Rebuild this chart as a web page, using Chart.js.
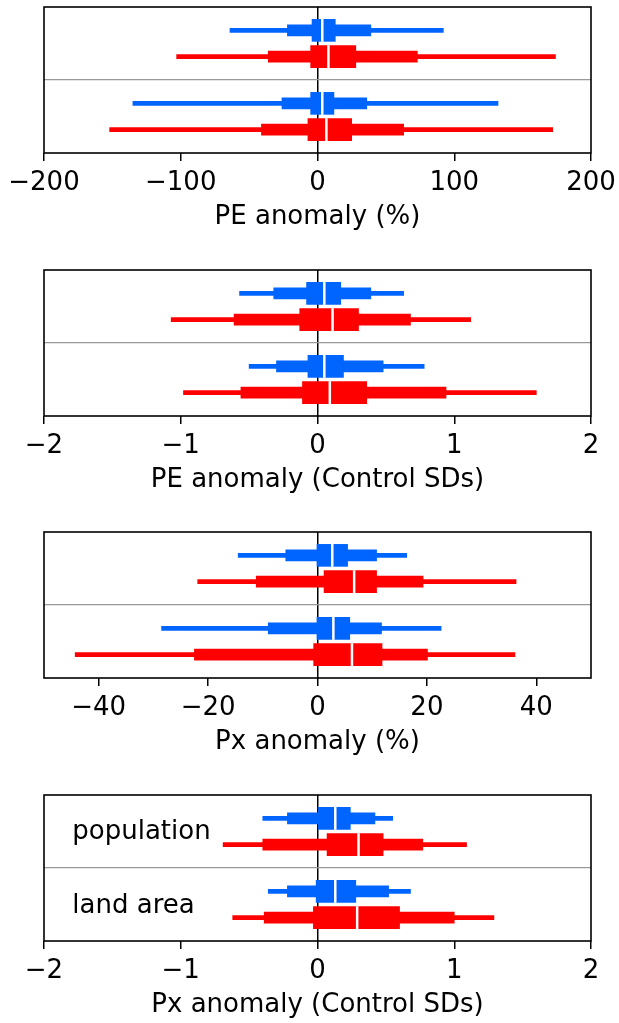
<!DOCTYPE html>
<html>
<head>
<meta charset="utf-8">
<script src="https://cdn.jsdelivr.net/npm/chart.js@4.4.1/dist/chart.umd.min.js"></script>
<style>
  html, body { margin: 0; padding: 0; background: #fff; overflow: hidden; }
  body { width: 619px; height: 1023px; position: relative; }
  canvas { position: absolute; left: 0; }
</style>
</head>
<body>
<canvas id="p1" width="619" height="240" style="top:0px"></canvas>
<canvas id="p2" width="619" height="240" style="top:263px"></canvas>
<canvas id="p3" width="619" height="240" style="top:525px"></canvas>
<canvas id="p4" width="619" height="240" style="top:788px"></canvas>
<script>
// rows, top to bottom: population (blue, red), land area (blue, red)
const groupLabels = ["population", "land area"];

// PE anomaly (%)
const pePctWhisker = [[-64, 92], [-103, 174], [-135, 132], [-152, 172]];
const pePctBox = [[-22, 39], [-36, 73], [-26, 36], [-41, 63]];
const pePctInner = [[-4, 13], [-5, 28], [-5, 12], [-7, 25]];
const pePctMedian = [3.5, 8, 3.5, 6.5];
const pePctTicks = [-200, -100, 0, 100, 200];

// PE anomaly (Control SDs)
const peSdWhisker = [[-0.57, 0.63], [-1.07, 1.12], [-0.50, 0.78], [-0.98, 1.60]];
const peSdBox = [[-0.32, 0.39], [-0.61, 0.68], [-0.30, 0.48], [-0.56, 0.94]];
const peSdInner = [[-0.08, 0.17], [-0.13, 0.30], [-0.07, 0.19], [-0.11, 0.36]];
const peSdMedian = [0.05, 0.11, 0.05, 0.09];
const peSdTicks = [-2, -1, 0, 1, 2];

// Px anomaly (%)
const pxPctWhisker = [[-14.5, 16.3], [-21.9, 36.3], [-28.5, 22.6], [-44.3, 36.1]];
const pxPctBox = [[-5.8, 10.8], [-11.2, 19.3], [-9.0, 11.7], [-22.5, 20.1]];
const pxPctInner = [[-0.1, 5.5], [1.2, 10.8], [-0.1, 5.9], [-0.7, 11.8]];
const pxPctMedian = [2.7, 6.7, 2.9, 6.3];
const pxPctTicks = [-40, -20, 0, 20, 40];

// Px anomaly (Control SDs)
const pxSdWhisker = [[-0.40, 0.55], [-0.69, 1.09], [-0.36, 0.68], [-0.62, 1.29]];
const pxSdBox = [[-0.22, 0.42], [-0.40, 0.77], [-0.22, 0.52], [-0.39, 1.00]];
const pxSdInner = [[0.0, 0.24], [0.07, 0.48], [-0.01, 0.28], [-0.03, 0.60]];
const pxSdMedian = [0.13, 0.30, 0.13, 0.29];
const pxSdTicks = [-2, -1, 0, 1, 2];

// layout / style
const rowPos = [0.16, 0.34, 0.66, 0.84];
const labelPos = [0.30, 0.805];
const BLUE = "#0064ff";
const RED = "#ff0000";
const rowColors = [BLUE, RED, BLUE, RED];
const TRANSPARENT = "rgba(0,0,0,0)";

Chart.defaults.font.family = "'DejaVu Sans', sans-serif";
Chart.defaults.font.size = 26;
Chart.defaults.color = "#000";

const framePlugin = {
    id: "frame",
    afterDatasetsDraw(chart) {
        const { ctx, chartArea: a } = chart;
        ctx.save();
        ctx.strokeStyle = "#000";
        ctx.lineWidth = 1.6;
        ctx.strokeRect(a.left, a.top, a.right - a.left, a.bottom - a.top);
        ctx.restore();
    }
};

function rangeData(pairs) {
    return pairs.map((p, i) => ({ x: p, y: rowPos[i] }));
}

function barSet(pairs, thickness, order) {
    return {
        type: "bar",
        data: rangeData(pairs),
        backgroundColor: rowColors,
        borderWidth: 0,
        borderSkipped: false,
        barThickness: thickness,
        grouped: false,
        order: order
    };
}

function makePanel(id, title, range, ticks, whisker, box, inner, median, labels) {
    const plugins = [framePlugin];
    if (labels) {
        plugins.push({
            id: "groupLabels",
            afterDatasetsDraw(chart) {
                const { ctx, scales } = chart;
                ctx.save();
                ctx.font = "26px 'DejaVu Sans', sans-serif";
                ctx.fillStyle = "#000";
                ctx.textBaseline = "alphabetic";
                ctx.textAlign = "left";
                labels.forEach((txt, i) => {
                    const x = scales.x.getPixelForValue(range[0] * 0.8965);
                    const y = scales.y.getPixelForValue(labelPos[i]);
                    ctx.fillText(txt, x, y);
                });
                ctx.restore();
            }
        });
    }

    return new Chart(document.getElementById(id), {
        type: "bar",
        data: {
            datasets: [
                {
                    type: "scatter",
                    data: median.map((m, i) => ({ x: m, y: rowPos[i] })),
                    pointStyle: "line",
                    rotation: 90,
                    radius: 11.5,
                    borderColor: "#fff",
                    borderWidth: 2.5,
                    backgroundColor: "#fff",
                    order: 0
                },
                barSet(inner, 22, 1),
                barSet(box, 11, 2),
                barSet(whisker, 4, 3)
            ]
        },
        options: {
            indexAxis: "y",
            responsive: false,
            animation: false,
            devicePixelRatio: 1,
            layout: { autoPadding: false, padding: { left: 44, right: 28, top: 7, bottom: 0 } },
            plugins: { legend: { display: false }, tooltip: { enabled: false } },
            scales: {
                x: {
                    type: "linear",
                    position: "bottom",
                    min: range[0],
                    max: range[1],
                    afterBuildTicks: (s) => { s.ticks = ticks.map(v => ({ value: v })); },
                    afterFit: (s) => { s.height = 87; s.paddingLeft = 0; s.paddingRight = 0; },
                    ticks: {
                        padding: 7,
                        maxRotation: 0,
                        autoSkip: false,
                        callback: (v) => v < 0 ? "\u2212" + Math.abs(v) : String(v)
                    },
                    grid: {
                        color: (c) => c.tick && c.tick.value === 0 ? "#000" : TRANSPARENT,
                        lineWidth: 1.5,
                        tickColor: "#000",
                        tickWidth: 1.5,
                        tickLength: 8
                    },
                    border: { display: false },
                    title: {
                        display: true,
                        text: title,
                        padding: { top: 2, bottom: 7.4 }
                    }
                },
                y: {
                    type: "linear",
                    min: 0,
                    max: 1,
                    reverse: true,
                    offset: false,
                    afterBuildTicks: (s) => { s.ticks = [{ value: 0.5 }]; },
                    afterFit: (s) => { s.width = 0; s.paddingTop = 0; s.paddingBottom = 0; },
                    ticks: { display: false },
                    grid: { offset: false, drawTicks: false, color: "#999", lineWidth: 1.2 },
                    border: { display: false }
                }
            }
        },
        plugins: plugins
    });
}

makePanel("p1", "PE anomaly (%)", [-200, 200], pePctTicks, pePctWhisker, pePctBox, pePctInner, pePctMedian);
makePanel("p2", "PE anomaly (Control SDs)", [-2, 2], peSdTicks, peSdWhisker, peSdBox, peSdInner, peSdMedian);
makePanel("p3", "Px anomaly (%)", [-50, 50], pxPctTicks, pxPctWhisker, pxPctBox, pxPctInner, pxPctMedian);
makePanel("p4", "Px anomaly (Control SDs)", [-2, 2], pxSdTicks, pxSdWhisker, pxSdBox, pxSdInner, pxSdMedian, groupLabels);
</script>
</body>
</html>
